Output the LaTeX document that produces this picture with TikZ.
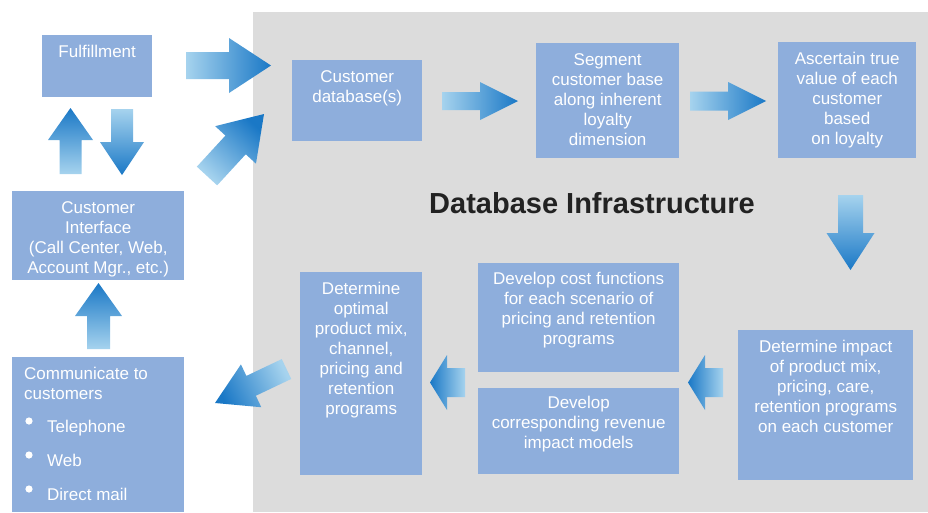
\documentclass[tikz,border=0pt]{standalone}
\usepackage{fontspec}
\setmainfont{Liberation Sans}
\usetikzlibrary{calc,positioning}

\definecolor{boxblue}{HTML}{8EAEDC}
\definecolor{infragray}{HTML}{DCDCDC}
\definecolor{arrlight}{HTML}{A6D3EE}
\definecolor{arrdark}{HTML}{1A78C6}
\definecolor{titlegray}{HTML}{222222}

\tikzset{
  bluebox/.style={fill=boxblue, anchor=north west, inner sep=0pt},
  boxtext/.style={text=white, align=center, inner sep=0pt, anchor=north,
    font=\fontsize{17}{20}\selectfont},
  listtext/.style={text=white, align=left, inner sep=0pt,
    font=\fontsize{17}{20}\selectfont},
}

% block arrow: tail, tip, shaft half width, head half width, head length, shading angle
\newcommand{\blockarrow}[6]{%
  \coordinate (hb) at ($(#2)!#5pt!(#1)$);
  \shade[top color=arrdark, bottom color=arrlight, shading angle=#6]
    ($(#1)!#3pt!90:(#2)$) -- ($(hb)!#3pt!90:(#2)$) -- ($(hb)!#4pt!90:(#2)$) -- (#2)
    -- ($(hb)!#4pt!-90:(#2)$) -- ($(hb)!#3pt!-90:(#2)$) -- ($(#1)!#3pt!-90:(#2)$) -- cycle;
}

\begin{document}
\begin{tikzpicture}[x=1pt, y=-1pt]
    \useasboundingbox (0,0) rectangle (928,512);
    \fill[infragray] (253,12) rectangle (928,512);

    % boxes outside
    \node[bluebox, minimum width=110, minimum height=62] (ful) at (42,35) {};
    \node[bluebox, minimum width=172, minimum height=89] (ci) at (12,191) {};
    \node[bluebox, minimum width=172, minimum height=155] (comm) at (12,357) {};
    % boxes inside
    \node[bluebox, minimum width=130, minimum height=81] (db) at (292,60) {};
    \node[bluebox, minimum width=143, minimum height=115] (seg) at (536,43) {};
    \node[bluebox, minimum width=138, minimum height=116] (asc) at (778,42) {};
    \node[bluebox, minimum width=175, minimum height=150] (imp) at (738,330) {};
    \node[bluebox, minimum width=201, minimum height=109] (cost) at (478,263) {};
    \node[bluebox, minimum width=201, minimum height=86] (rev) at (478,388) {};
    \node[bluebox, minimum width=122, minimum height=203] (opt) at (300,272) {};

    \node[boxtext] (fultext) at ($(ful.north)+(0,10)$) {Fulfillment};
    \node[boxtext] (citext) at ($(ci.north)+(0,10)$) {Customer\\Interface\\(Call Center, Web,\\Account Mgr., etc.)};
    \node[boxtext] (dbtext) at ($(db.north)+(0,10)$) {Customer\\database(s)};
    \node[boxtext] (segtext) at ($(seg.north)+(0,10)$) {Segment\\customer base\\along inherent\\loyalty\\dimension};
    \node[boxtext] (asctext) at ($(asc.north)+(0,10)$) {Ascertain true\\value of each\\customer\\based\\on loyalty};
    \node[boxtext] (imptext) at ($(imp.north)+(0,10)$) {Determine impact\\of product mix,\\pricing, care,\\retention programs\\on each customer};
    \node[boxtext] (costtext) at ($(cost.north)+(0,9)$) {Develop cost functions\\for each scenario of\\pricing and retention\\programs};
    \node[boxtext] (revtext) at ($(rev.north)+(0,8)$) {Develop\\corresponding revenue\\impact models};
    \node[boxtext] (opttext) at ($(opt.north)+(0,10)$) {Determine\\optimal\\product mix,\\channel,\\pricing and\\retention\\programs};

    \node[listtext, anchor=north west] (commtext) at (24,367) {Communicate to\\customers};
    \node[listtext, anchor=base west] (tel) at (47,432) {Telephone};
    \node[listtext, anchor=base west] (web) at (47,466) {Web};
    \node[listtext, anchor=base west] (mail) at (47,500) {Direct mail};
    \foreach \b in {tel,web,mail}
        \fill[white] ($(\b.base west)+(-18,-11)$) circle (3.6);

    \node[font=\fontsize{29}{34}\bfseries\selectfont, text=titlegray] (title) at (592,203) {Database Infrastructure};

    % arrows
    \coordinate (a1t) at (186,65.5);  \coordinate (a1p) at (271,65.5);
    \coordinate (a2t) at (207,176);   \coordinate (a2p) at (264,114);
    \coordinate (a3t) at (442,101);   \coordinate (a3p) at (518,101);
    \coordinate (a4t) at (690,101);   \coordinate (a4p) at (766,101);
    \coordinate (a5t) at (850.5,195); \coordinate (a5p) at (850.5,270);
    \coordinate (a6t) at (723,382.5); \coordinate (a6p) at (688,382.5);
    \coordinate (a7t) at (465,382.5); \coordinate (a7p) at (430,382.5);
    \coordinate (a8t) at (286.5,369); \coordinate (a8p) at (215,403);
    \coordinate (a9t) at (70.5,174);  \coordinate (a9p) at (70.5,108);
    \coordinate (a10t) at (122,109);  \coordinate (a10p) at (122,175);
    \coordinate (a11t) at (98.5,349); \coordinate (a11p) at (98.5,283);

    \blockarrow{a1t}{a1p}{13.5}{27.5}{42}{-90}
    \blockarrow{a2t}{a2p}{13.8}{27.7}{42}{-42.6}
    \blockarrow{a3t}{a3p}{9}{19}{38}{-90}
    \blockarrow{a4t}{a4p}{9.5}{19}{38}{-90}
    \blockarrow{a5t}{a5p}{12.5}{24}{37}{180}
    \blockarrow{a6t}{a6p}{14.5}{27.5}{17}{90}
    \blockarrow{a7t}{a7p}{14.5}{27.5}{17}{90}
    \blockarrow{a8t}{a8p}{11}{23.7}{40}{115.4}
    \blockarrow{a9t}{a9p}{11}{22.5}{32}{0}
    \blockarrow{a10t}{a10p}{11}{22}{33}{180}
    \blockarrow{a11t}{a11p}{11.5}{23.5}{33}{0}
\end{tikzpicture}
\end{document}
